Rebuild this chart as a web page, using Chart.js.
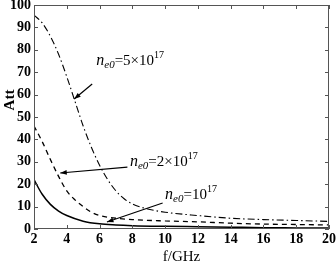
<!DOCTYPE html>
<html>
<head>
<meta charset="utf-8">
<script src="https://cdn.jsdelivr.net/npm/chart.js@4/dist/chart.umd.min.js"></script>
<style>
  html, body { margin: 0; padding: 0; background: #fff; }
</style>
</head>
<body>
<canvas id="attChart" width="336" height="266"></canvas>
<script>
// frequency (GHz) and attenuation values
const freqLow = [2, 2.5, 3, 3.5, 4, 5, 6, 7, 8, 10, 12, 14, 16, 18, 20];
const att1e17 = [22, 15.5, 11, 8, 6, 3.5, 2.3, 1.8, 1.5, 1.2, 1.0, 0.8, 0.6, 0.5, 0.4];

const freqMid = [2, 2.5, 3, 3.5, 4, 4.5, 5, 5.5, 6, 7, 8, 10, 12, 14, 16, 18, 20];
const att2e17 = [46, 39, 31, 23.5, 17, 13, 10, 7.5, 6, 4.8, 4.2, 3.6, 3.2, 2.6, 2.2, 2, 1.8];

const freqHigh = [2, 2.5, 3, 3.5, 4, 4.5, 5, 5.5, 6, 6.5, 7, 7.5, 8, 8.5, 9, 10, 12, 14, 16, 18, 20];
const att5e17 = [95.5, 92, 86, 78, 68, 57, 46, 36.5, 28.5, 22, 17, 13.5, 11.2, 9.8, 8.8, 7.5, 6, 4.8, 4.2, 3.8, 3.4];

const xTicks = [2, 4, 6, 8, 10, 12, 14, 16, 18, 20];
const yTicks = [0, 10, 20, 30, 40, 50, 60, 70, 80, 90, 100];

// labels: text start / baseline and arrow ends, in data units
const notes = [
  { x: 5.8, y: 73, pre: '5×10', from: [5.55, 64.7], to: [4.45, 58] },
  { x: 7.85, y: 28, pre: '2×10', from: [7.7, 27.6], to: [3.6, 25] },
  { x: 10, y: 13.4, pre: '10', from: [9.85, 11.6], to: [6.45, 3.1] }
];

const toXY = (xs, ys) => xs.map((x, i) => ({ x: x, y: ys[i] }));

const serif = '"Liberation Serif", "DejaVu Serif", serif';

const frame = {
  id: 'frame',
  afterDraw(chart) {
    const c = chart.ctx, a = chart.chartArea;
    const sx = chart.scales.x, sy = chart.scales.y;
    c.save();
    c.strokeStyle = '#555';
    c.lineWidth = 1;
    c.strokeRect(a.left + 0.5, a.top + 0.5, a.right - a.left - 1, a.bottom - a.top - 1);
    c.beginPath();
    xTicks.forEach(v => {
      const px = Math.round(sx.getPixelForValue(v)) + 0.5;
      c.moveTo(px, a.bottom); c.lineTo(px, a.bottom - 4);
      c.moveTo(px, a.top); c.lineTo(px, a.top + 4);
    });
    yTicks.forEach(v => {
      const py = Math.round(sy.getPixelForValue(v)) + 0.5;
      c.moveTo(a.left, py); c.lineTo(a.left + 4, py);
      c.moveTo(a.right, py); c.lineTo(a.right - 4, py);
    });
    c.stroke();

    // y axis title, drawn a little above centre like the original
    c.fillStyle = '#000';
    c.save();
    c.translate(10, 100);
    c.rotate(-Math.PI / 2);
    c.font = 'bold 15px ' + serif;
    c.textAlign = 'center';
    c.textBaseline = 'middle';
    c.fillText('Att', 0, 0);
    c.restore();

    // annotations
    c.strokeStyle = '#000';
    notes.forEach(n => {
      let px = sx.getPixelForValue(n.x), py = sy.getPixelForValue(n.y);
      c.textBaseline = 'alphabetic';
      c.font = 'italic 16px ' + serif;
      c.fillText('n', px, py);
      px += c.measureText('n').width;
      c.font = 'italic 11px ' + serif;
      c.fillText('e0', px, py + 3);
      px += c.measureText('e0').width;
      c.font = '15px ' + serif;
      c.fillText('=' + n.pre, px, py);
      px += c.measureText('=' + n.pre).width;
      c.font = '10px ' + serif;
      c.fillText('17', px, py - 7);

      const x1 = sx.getPixelForValue(n.from[0]), y1 = sy.getPixelForValue(n.from[1]);
      const x2 = sx.getPixelForValue(n.to[0]), y2 = sy.getPixelForValue(n.to[1]);
      c.lineWidth = 1.2;
      c.beginPath(); c.moveTo(x1, y1); c.lineTo(x2, y2); c.stroke();
      const ang = Math.atan2(y2 - y1, x2 - x1), L = 7;
      c.beginPath();
      c.moveTo(x2, y2);
      c.lineTo(x2 - L * Math.cos(ang - 0.35), y2 - L * Math.sin(ang - 0.35));
      c.lineTo(x2 - L * Math.cos(ang + 0.35), y2 - L * Math.sin(ang + 0.35));
      c.closePath();
      c.fill();
    });
    c.restore();
  }
};

const ctx = document.getElementById('attChart').getContext('2d');
const myChart = new Chart(ctx, {
  type: 'line',
  data: {
    datasets: [{
      label: 'ne0=1e17',
      data: toXY(freqLow, att1e17),
      borderColor: '#000',
      borderWidth: 1.5
    }, {
      label: 'ne0=2e17',
      data: toXY(freqMid, att2e17),
      borderColor: '#000',
      borderWidth: 1.3,
      borderDash: [5, 4]
    }, {
      label: 'ne0=5e17',
      data: toXY(freqHigh, att5e17),
      borderColor: '#000',
      borderWidth: 1.1,
      borderDash: [7, 3, 1.5, 3]
    }]
  },
  options: {
    responsive: false,
    animation: false,
    devicePixelRatio: 1,
    layout: { padding: { top: 5, right: 7, left: 0, bottom: 0 } },
    elements: { point: { radius: 0 }, line: { cubicInterpolationMode: 'monotone', fill: false } },
    plugins: { legend: { display: false }, tooltip: { enabled: false } },
    scales: {
      x: {
        type: 'linear',
        min: 2, max: 20,
        grid: { display: false, drawTicks: false },
        border: { display: false },
        afterBuildTicks: s => { s.ticks = xTicks.map(v => ({ value: v })); },
        afterFit: s => { s.height = 37; s.paddingLeft = 0; s.paddingRight = 0; },
        ticks: { color: '#000', padding: 2, maxRotation: 0, autoSkip: false, font: { family: serif, size: 14, weight: 'bold' } },
        title: { display: true, text: 'f/GHz', color: '#000', padding: { top: 0, bottom: 0 }, font: { family: serif, size: 15 } }
      },
      y: {
        min: 0, max: 100,
        grid: { display: false, drawTicks: false },
        border: { display: false },
        afterBuildTicks: s => { s.ticks = yTicks.map(v => ({ value: v })); },
        afterFit: s => { s.width = 34; s.paddingTop = 0; s.paddingBottom = 0; },
        ticks: { color: '#000', padding: 3, autoSkip: false, font: { family: serif, size: 14, weight: 'bold' } },
        title: { display: false }
      }
    }
  },
  plugins: [frame]
});
</script>
</body>
</html>
